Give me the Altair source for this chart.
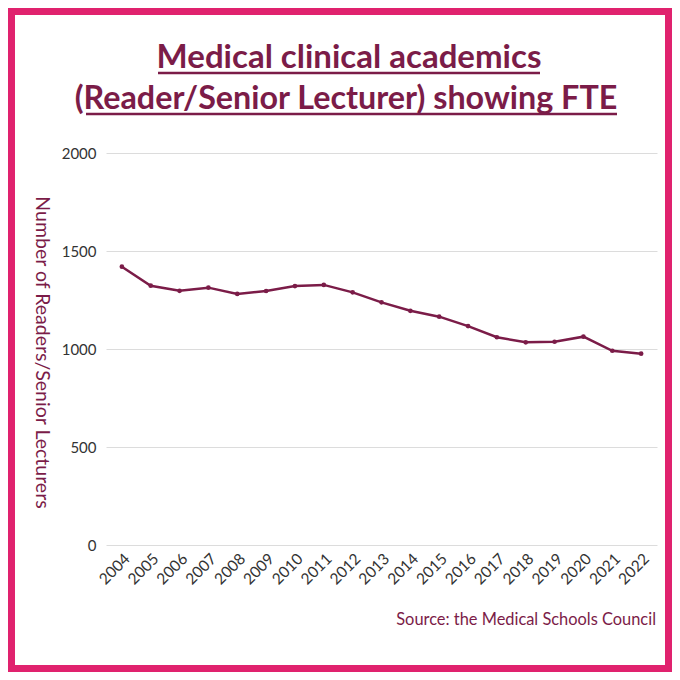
import altair as alt
import pandas as pd

years = [str(y) for y in range(2004, 2023)]
values = [1420, 1323, 1297, 1313, 1281, 1296, 1321, 1327, 1289, 1238,
          1195, 1165, 1117, 1060, 1034, 1037, 1063, 991, 976]
y_ticks = [0, 500, 1000, 1500, 2000]
title_lines = ["Medical clinical academics", "(Reader/Senior Lecturer) showing FTE"]
y_title = "Number of Readers/Senior Lecturers"
source_text = "Source: the Medical Schools Council"

MAROON = "#7B1C48"
PINK = "#E0226E"
W, H = 551, 392
PAD = {"left": 98, "top": 145, "right": 15, "bottom": 127}

df = pd.DataFrame({"year": years, "value": values})

base = alt.Chart(df)
line = base.mark_line(color=MAROON, strokeWidth=2.5).encode(
    x=alt.X("year:O", scale=alt.Scale(type="point", padding=0.55),
            axis=alt.Axis(title=None, labelAngle=-45, labelFontSize=15.5, labelFont="Lato",
                          labelColor="#333333", domain=False, ticks=False, labelPadding=6,
                          grid=False)),
    y=alt.Y("value:Q", scale=alt.Scale(domain=[0, 2000]),
            axis=alt.Axis(values=y_ticks, format="d", title=y_title, titleAngle=90,
                          titleFontSize=19.5, titleFont="Lato", titleFontWeight="normal",
                          titleColor=MAROON, titleX=-65, titleY=H / 2 + 3, titleAlign="center",
                          titleBaseline="middle",
                          labelFontSize=15, labelFont="Lato", labelColor="#333333",
                          labelPadding=10, domain=False, ticks=False, gridColor="#dcdcdc",
                          gridWidth=1)),
)
pts = base.mark_point(filled=True, color=MAROON, size=22, opacity=1).encode(
    x="year:O", y="value:Q")

one = pd.DataFrame({"t1": [title_lines[0]], "t2": [title_lines[1]], "s": [source_text]})
c1 = alt.Chart(one)
t1 = c1.mark_text(font="Lato", fontWeight="bold", fontSize=33, color=MAROON,
                  align="center", baseline="alphabetic").encode(
    text="t1:N", x=alt.value(243), y=alt.value(-85))
t2 = c1.mark_text(font="Lato", fontWeight="bold", fontSize=32.3, color=MAROON,
                  align="center", baseline="alphabetic").encode(
    text="t2:N", x=alt.value(240), y=alt.value(-44))
u1 = c1.mark_rule(color=MAROON, strokeWidth=2.5).encode(
    x=alt.value(52), x2=alt.value(434), y=alt.value(-80))
u2 = c1.mark_rule(color=MAROON, strokeWidth=2.5).encode(
    x=alt.value(-20), x2=alt.value(511), y=alt.value(-39))
src = c1.mark_text(font="Lato", fontSize=16.4, color=MAROON, align="right",
                   baseline="alphabetic").encode(
    text="s:N", x=alt.value(550), y=alt.value(472))
frame = c1.mark_rect(fill=None, stroke=PINK, strokeWidth=7).encode(
    x=alt.value(-PAD["left"] + 3.5), x2=alt.value(W + PAD["right"] - 3.5),
    y=alt.value(-PAD["top"] + 3.5), y2=alt.value(H + PAD["bottom"] - 3.5))

chart = alt.layer(line, pts, t1, t2, u1, u2, src, frame).properties(
    width=W, height=H, padding=PAD,
    autosize=alt.AutoSizeParams(type="none"),
    background="white",
).configure_view(stroke=None)

chart.save("out.html", embed_options={"renderer": "svg", "actions": False})
